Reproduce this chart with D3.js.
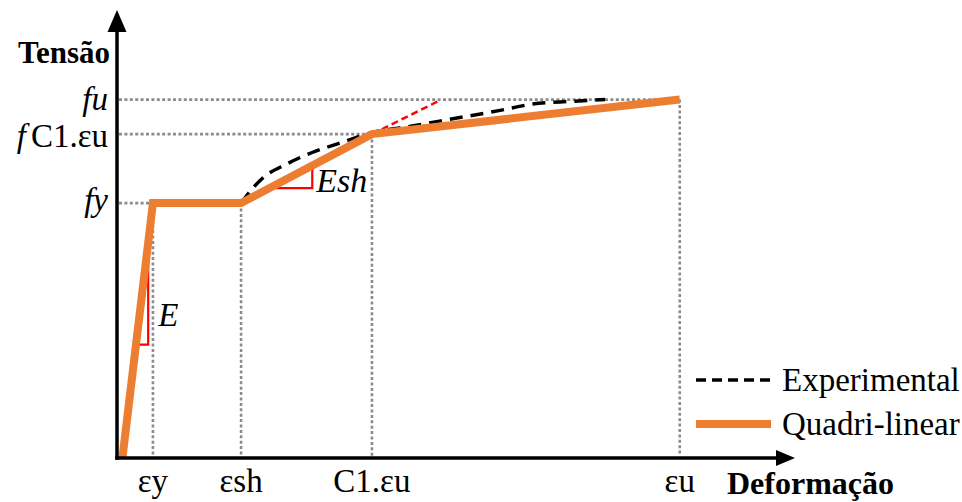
<!DOCTYPE html>
<html>
<head>
<meta charset="utf-8">
<script src="https://cdn.jsdelivr.net/npm/d3@7"></script>
<style>
  body { margin: 0; background: #fff; }
  svg { font-family: "Liberation Serif", "Times New Roman", serif; }
</style>
</head>
<body>
<svg id="chart"></svg>
<script>
// eixos: deformação (x) e tensão (y), unidades arbitrárias 0-100
const strainTicks = [5.3, 18.3, 37.6, 83.0];
const strainLabels = ["εy", "εsh", "C1.εu", "εu"];
const stressTicks = [56.9, 72.3, 80.0];
const stressLabels = [["f", "y"], ["f", "C1.εu"], ["f", "u"]];
const stressAtStrain = [56.9, 56.9, 72.3, 80.0];

// modelo quadri-linear
const quadX = [0.8, 5.3, 18.3, 37.6, 83.0];
const quadY = [0, 56.9, 56.9, 72.3, 80.0];

// curva experimental
const expX = [18.3, 19.9, 21.5, 25.0, 29.5, 32.9, 37.6, 43.5, 49.1, 56.5, 61.3, 66.8, 72.0];
const expY = [56.9, 60.0, 62.5, 65.6, 68.6, 70.3, 72.6, 74.1, 75.6, 77.6, 79.0, 79.6, 80.0];

// tangente vermelha no ponto C1.eu
const tanX = [37.6, 47.6];
const tanY = [72.3, 79.8];

// triangulos de inclinação (intervalo de deformação ao longo do segmento)
const triE = [2.8, 4.6];
const triEsh = [22.5, 28.8];

const W = 962, H = 502;
const svg = d3.select("#chart").attr("width", W).attr("height", H);

const x = d3.scaleLinear().domain([0, 100]).range([117, 795]);
const y = d3.scaleLinear().domain([0, 100]).range([458, 10]);

const orange = "#ED7D31";
const grey = "#8c8c8c";

// linhas pontilhadas de referência
const guides = svg.append("g")
  .attr("stroke", grey)
  .attr("stroke-width", 2.6)
  .attr("stroke-dasharray", "3,2.4")
  .attr("fill", "none");

stressTicks.forEach((v, i) => {
  const sx = [strainTicks[0], strainTicks[2], strainTicks[3]][i];
  guides.append("line")
    .attr("x1", x(0) + 2).attr("x2", x(sx))
    .attr("y1", y(v)).attr("y2", y(v));
});
strainTicks.forEach((s, i) => {
  guides.append("line")
    .attr("x1", x(s)).attr("x2", x(s))
    .attr("y1", y(stressAtStrain[i])).attr("y2", y(0) - 2);
});

// interpolação no modelo quadri-linear
const quadAt = s => {
  for (let i = 1; i < quadX.length; i++) {
    if (s <= quadX[i]) {
      const t = (s - quadX[i - 1]) / (quadX[i] - quadX[i - 1]);
      return quadY[i - 1] + t * (quadY[i] - quadY[i - 1]);
    }
  }
  return quadY[quadY.length - 1];
};

// triangulos vermelhos
[triE, triEsh].forEach(t => {
  const y0 = quadAt(t[0]), y1 = quadAt(t[1]);
  svg.append("path")
    .attr("d", `M${x(t[0])},${y(y0)}L${x(t[1])},${y(y0)}L${x(t[1])},${y(y1)}`)
    .attr("fill", "none")
    .attr("stroke", "#ff0000")
    .attr("stroke-width", 2.2);
});

// tangente tracejada vermelha
svg.append("line")
  .attr("x1", x(tanX[0])).attr("y1", y(tanY[0]))
  .attr("x2", x(tanX[1])).attr("y2", y(tanY[1]))
  .attr("stroke", "#ff0000")
  .attr("stroke-width", 2.4)
  .attr("stroke-dasharray", "7,4");

// curva experimental
const expLine = d3.line()
  .x((d, i) => x(expX[i]))
  .y(d => y(d))
  .curve(d3.curveMonotoneX);

svg.append("path")
  .attr("d", expLine(expY))
  .attr("fill", "none")
  .attr("stroke", "#000")
  .attr("stroke-width", 3.5)
  .attr("stroke-dasharray", "13,8");

// modelo quadri-linear
const quadLine = d3.line()
  .x((d, i) => x(quadX[i]))
  .y(d => y(d));

svg.append("path")
  .attr("d", quadLine(quadY))
  .attr("fill", "none")
  .attr("stroke", orange)
  .attr("stroke-width", 8)
  .attr("stroke-linejoin", "miter");

// eixos com setas
const axes = svg.append("g");
axes.append("line")
  .attr("x1", x(0)).attr("x2", x(0))
  .attr("y1", y(0) + 1.75).attr("y2", y(100) + 18)
  .attr("stroke", "#000").attr("stroke-width", 3.5);
axes.append("path")
  .attr("d", `M${x(0)},${y(100)}L${x(0) - 9.5},${y(100) + 22}L${x(0) + 9.5},${y(100) + 22}Z`)
  .attr("fill", "#000");
axes.append("line")
  .attr("x1", x(0) - 1.75).attr("x2", x(100) - 15)
  .attr("y1", y(0)).attr("y2", y(0))
  .attr("stroke", "#000").attr("stroke-width", 3.5);
axes.append("path")
  .attr("d", `M${x(100)},${y(0)}L${x(100) - 19},${y(0) - 8}L${x(100) - 19},${y(0) + 8}Z`)
  .attr("fill", "#000");

// rótulos do eixo x
svg.append("g")
  .selectAll("text")
  .data(strainLabels)
  .join("text")
  .attr("x", (d, i) => x(strainTicks[i]))
  .attr("y", 492)
  .attr("text-anchor", "middle")
  .attr("font-size", 33)
  .text(d => d);

// rótulos do eixo y
svg.append("g")
  .selectAll("text")
  .data(stressLabels)
  .join("text")
  .attr("x", 108)
  .attr("y", (d, i) => y(stressTicks[i]) + [8, 13, 10][i])
  .attr("text-anchor", "end")
  .attr("font-size", 33)
  .each(function (d) {
    const t = d3.select(this);
    t.append("tspan").attr("font-style", "italic").text(d[0]);
    t.append("tspan")
      .attr("font-style", d[1] === "C1.εu" ? "normal" : "italic")
      .attr("dx", d[1] === "C1.εu" ? 5 : 0)
      .text(d[1]);
  });

// títulos dos eixos
svg.append("text")
  .attr("x", 110).attr("y", 63)
  .attr("text-anchor", "end")
  .attr("font-size", 31).attr("font-weight", "bold")
  .text("Tensão");

svg.append("text")
  .attr("x", 727).attr("y", 494)
  .attr("font-size", 32).attr("font-weight", "bold")
  .text("Deformação");

// anotações de inclinação
svg.append("text")
  .attr("x", x(triE[1]) + 10).attr("y", y(quadAt(triE[0])) - 19)
  .attr("font-size", 33).attr("font-style", "italic")
  .text("E");
svg.append("text")
  .attr("x", x(triEsh[1]) + 4).attr("y", y(quadAt(triEsh[0])) + 4)
  .attr("font-size", 34).attr("font-style", "italic")
  .text("Esh");

// legenda
const legend = svg.append("g").attr("transform", "translate(696,380)");
legend.append("line")
  .attr("x1", 0).attr("x2", 75).attr("y1", 0).attr("y2", 0)
  .attr("stroke", "#000").attr("stroke-width", 3.5)
  .attr("stroke-dasharray", "10,6");
legend.append("text")
  .attr("x", 86).attr("y", 11)
  .attr("font-size", 33)
  .text("Experimental");
legend.append("line")
  .attr("x1", 0).attr("x2", 75).attr("y1", 44).attr("y2", 44)
  .attr("stroke", orange).attr("stroke-width", 8);
legend.append("text")
  .attr("x", 86).attr("y", 55)
  .attr("font-size", 33)
  .text("Quadri-linear");
</script>
</body>
</html>
